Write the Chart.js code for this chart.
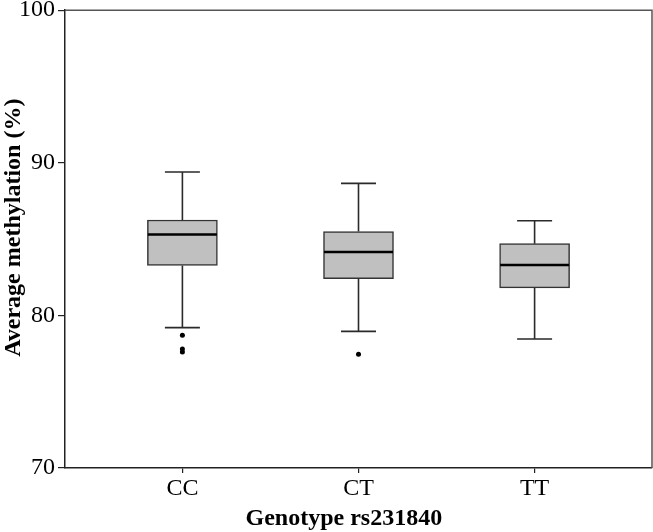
<!DOCTYPE html>
<html>
<head>
<meta charset="utf-8">
<script src="https://cdn.jsdelivr.net/npm/chart.js@4"></script>
<style>
  body { margin: 0; background: #fff; }
</style>
</head>
<body>
<canvas id="box-chart" width="653" height="532"></canvas>
<script>
// box plot values
let genotypes = ['CC', 'CT', 'TT'];
let whiskerLow = [79.2, 78.95, 78.45];
let q1 = [83.27, 82.4, 81.8];
let median = [85.3, 84.15, 83.3];
let q3 = [86.25, 85.5, 84.7];
let whiskerHigh = [89.4, 88.65, 86.2];
let outliers = [[78.7, 77.8, 77.6], [77.45], []];
let yTicks = [70, 80, 90, 100];

let serif = "'Liberation Serif', 'Times New Roman', serif";

let boxData = genotypes.map((g, i) => ({ x: i + 1, y: [q1[i], q3[i]] }));
let outlierData = [];
outliers.forEach((list, i) => {
    list.forEach(v => outlierData.push({ x: i + 1, y: v }));
});

// whiskers, caps and the median line, drawn through the scales
let boxPlotLines = {
    id: 'boxPlotLines',
    afterDatasetsDraw(chart) {
        let ctx = chart.ctx;
        let xs = chart.scales.x;
        let ys = chart.scales.y;
        ctx.save();
        ctx.lineCap = 'butt';
        for (let i = 0; i < genotypes.length; i++) {
            let cx = xs.getPixelForValue(i + 1);
            ctx.strokeStyle = '#2a2a2a';
            ctx.lineWidth = 1.6;
            ctx.beginPath();
            ctx.moveTo(cx, ys.getPixelForValue(q3[i]));
            ctx.lineTo(cx, ys.getPixelForValue(whiskerHigh[i]));
            ctx.moveTo(cx, ys.getPixelForValue(q1[i]));
            ctx.lineTo(cx, ys.getPixelForValue(whiskerLow[i]));
            ctx.moveTo(cx - 17.5, ys.getPixelForValue(whiskerHigh[i]));
            ctx.lineTo(cx + 17.5, ys.getPixelForValue(whiskerHigh[i]));
            ctx.moveTo(cx - 17.5, ys.getPixelForValue(whiskerLow[i]));
            ctx.lineTo(cx + 17.5, ys.getPixelForValue(whiskerLow[i]));
            ctx.stroke();
            // median
            ctx.strokeStyle = '#000';
            ctx.lineWidth = 2.6;
            ctx.beginPath();
            ctx.moveTo(cx - 34.5, ys.getPixelForValue(median[i]));
            ctx.lineTo(cx + 34.5, ys.getPixelForValue(median[i]));
            ctx.stroke();
        }
        ctx.restore();
    }
};

// frame on top/right plus the two axis titles
let frameAndTitles = {
    id: 'frameAndTitles',
    afterDraw(chart) {
        let ctx = chart.ctx;
        let a = chart.chartArea;
        ctx.save();
        ctx.strokeStyle = '#555';
        ctx.lineWidth = 1.5;
        ctx.beginPath();
        ctx.moveTo(a.left, a.top);
        ctx.lineTo(a.right, a.top);
        ctx.lineTo(a.right, a.bottom);
        ctx.stroke();

        ctx.fillStyle = '#000';
        ctx.font = 'bold 24px ' + serif;
        ctx.textAlign = 'center';
        ctx.textBaseline = 'alphabetic';
        ctx.fillText('Genotype rs231840', a.left + (a.right - a.left) * 0.475, chart.height - 7);

        ctx.translate(20, a.top + (a.bottom - a.top) * 0.475);
        ctx.rotate(-Math.PI / 2);
        ctx.fillText('Average methylation (%)', 0, 0);
        ctx.restore();
    }
};

let ctx = document.getElementById('box-chart');
let boxChart = new Chart(ctx, {
    type: 'bar',
    data: {
        datasets: [{
            type: 'bar',
            data: boxData,
            backgroundColor: '#c0c0c0',
            borderColor: '#333',
            borderWidth: 1.5,
            borderSkipped: false,
            barThickness: 70,
            grouped: false,
            order: 2
        }, {
            type: 'scatter',
            data: outlierData,
            backgroundColor: '#000',
            borderColor: '#000',
            pointRadius: 2.5,
            pointBorderWidth: 0,
            order: 1
        }]
    },
    options: {
        responsive: false,
        animation: false,
        devicePixelRatio: 1,
        layout: {
            autoPadding: false,
            padding: { top: 9, right: 1, left: 0, bottom: 0 }
        },
        plugins: {
            legend: { display: false },
            tooltip: { enabled: false }
        },
        scales: {
            x: {
                type: 'linear',
                min: 1 / 3,
                max: 11 / 3,
                offset: false,
                afterBuildTicks: (scale) => {
                    scale.ticks = genotypes.map((g, i) => ({ value: i + 1 }));
                },
                afterFit: (scale) => { scale.height = 64; },
                ticks: {
                    callback: (v) => genotypes[v - 1],
                    color: '#000',
                    font: { family: serif, size: 24 },
                    padding: 1,
                    maxRotation: 0
                },
                grid: {
                    offset: false,
                    drawOnChartArea: false,
                    drawTicks: true,
                    tickLength: 5,
                    color: '#222',
                    lineWidth: 1.2
                },
                border: { color: '#222', width: 1.5 }
            },
            y: {
                type: 'linear',
                min: 70,
                max: 100,
                afterBuildTicks: (scale) => {
                    scale.ticks = yTicks.map(v => ({ value: v }));
                },
                afterFit: (scale) => { scale.width = 65; },
                ticks: {
                    color: '#000',
                    font: { family: serif, size: 24, lineHeight: 0.6 },
                    padding: 3
                },
                grid: {
                    drawOnChartArea: false,
                    drawTicks: true,
                    tickLength: 7,
                    color: '#222',
                    lineWidth: 1.2
                },
                border: { color: '#222', width: 1.5 }
            }
        }
    },
    plugins: [boxPlotLines, frameAndTitles]
});
</script>
</body>
</html>
